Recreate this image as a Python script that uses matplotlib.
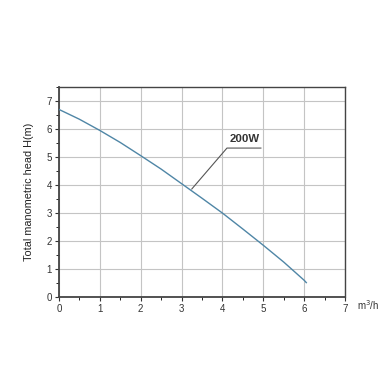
import matplotlib
matplotlib.use('Agg')
import matplotlib.pyplot as plt
import numpy as np

plt.rcParams['font.family'] = ['Liberation Sans', 'DejaVu Sans']

# pump curve
flow = [0, 0.5, 1, 1.5, 2, 2.5, 3, 3.5, 4, 4.5, 5, 5.5, 6, 6.05]
head = [6.7, 6.35, 5.95, 5.52, 5.05, 4.57, 4.05, 3.53, 3.0, 2.43, 1.85, 1.25, 0.6, 0.52]
label = '200W'

fig = plt.figure(figsize=(3.9, 3.9), dpi=100)
ax = fig.add_axes([0.151, 0.238, 0.734, 0.539])

ax.plot(flow, head, color='#4f86a6', lw=1.0, zorder=3)

ax.set_xlim(0, 7)
ax.set_ylim(0, 7.5)
ax.set_xticks(np.arange(0, 8, 1))
ax.set_yticks(np.arange(0, 8, 1))
ax.set_xticks(np.arange(0, 7.01, 0.5), minor=True)
ax.set_yticks(np.arange(0, 7.51, 0.5), minor=True)
ax.grid(True, which='major', color='#c4c4c4', lw=0.8)
ax.tick_params(labelsize=7, length=3, width=0.8, colors='#333333', pad=2)
ax.tick_params(which='minor', length=2, width=0.6)
for s in ax.spines.values():
    s.set_color('#444444')
    s.set_linewidth(1.0)
ax.spines['left'].set_linewidth(1.3)
ax.spines['bottom'].set_linewidth(1.3)

ax.set_ylabel('Total manometric head H(m)', fontsize=7.8, color='#222222', labelpad=9)
ax.text(7.3, -0.28, 'm$^3$/h', fontsize=7, color='#333333', ha='left', va='center',
        clip_on=False)

# leader line to the curve
ax.plot([3.25, 4.11, 4.94], [3.86, 5.32, 5.32], color='#555555', lw=0.8, zorder=4)
ax.text(4.55, 5.64, label, fontsize=8.2, fontweight='bold', color='#333333', ha='center', va='center')

fig.savefig('out.png', dpi=100)
